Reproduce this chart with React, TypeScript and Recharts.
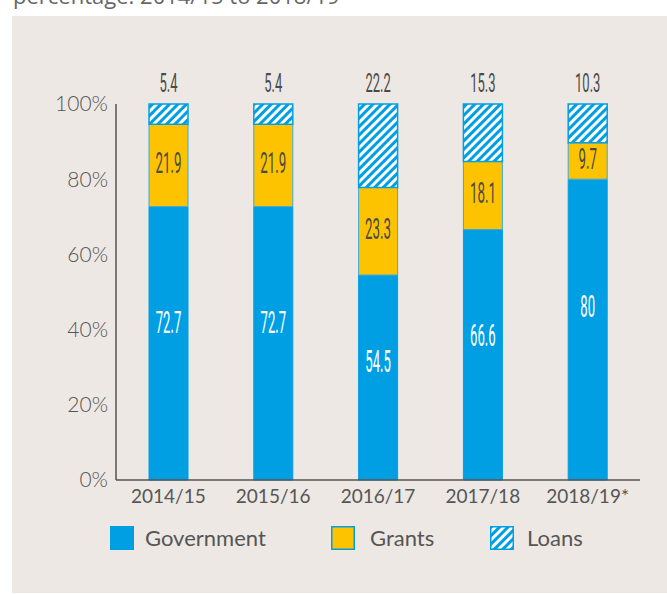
import React from 'react';
import { BarChart, Bar, XAxis, YAxis, LabelList } from 'recharts';

const years = ['2014/15', '2015/16', '2016/17', '2017/18', '2018/19*'];
const government = [72.7, 72.7, 54.5, 66.6, 80];
const grants = [21.9, 21.9, 23.3, 18.1, 9.7];
const loans = [5.4, 5.4, 22.2, 15.3, 10.3];
const yTicks = [0, 20, 40, 60, 80, 100];

const BLUE = '#009FE3';
const YELLOW = '#FDC300';
const BG = '#EDE8E4';
const TEXT = '#555555';

const data = years.map((year, i) => ({
  year,
  government: government[i],
  grants: grants[i],
  loans: loans[i],
}));

// narrow numbers, like the condensed face in the original
function numLabel(pos: 'gov' | 'grants' | 'top') {
  return (props: any) => {
    const { x, y, width, height, value } = props;
    const cx = Number(x) + Number(width) / 2;
    let cy = Number(y) + Number(height) / 2;
    let size = 29;
    let sx = 0.46;
    let fill = '#4a4a4a';
    if (pos === 'gov') {
      cy = Number(y) + Number(height) * 0.42;
      size = 32;
      sx = 0.41;
      fill = '#ffffff';
    } else if (pos === 'grants') {
      cy = cy - 2;
    } else {
      cy = Number(y) - 20;
      size = 25;
      sx = 0.52;
    }
    return (
      <text
        transform={`translate(${cx},${cy}) scale(${sx},1)`}
        x={0}
        y={0}
        textAnchor="middle"
        dominantBaseline="central"
        fontFamily="Roboto"
        fontWeight={400}
        fontSize={size}
        fill={fill}
      >
        {value}
      </text>
    );
  };
}

function Swatch({ kind }: { kind: 'gov' | 'grants' | 'loans' }) {
  return (
    <svg width={24} height={24} style={{ display: 'block' }}>
      <defs>
        <pattern id="lg-hatch" width={6} height={6} patternUnits="userSpaceOnUse" patternTransform="rotate(45)">
          <rect width={6} height={6} fill="#ffffff" />
          <rect width={3} height={6} fill={BLUE} />
        </pattern>
      </defs>
      <rect
        x={0.75}
        y={0.75}
        width={22.5}
        height={22.5}
        fill={kind === 'gov' ? BLUE : kind === 'grants' ? YELLOW : 'url(#lg-hatch)'}
        stroke={BLUE}
        strokeWidth={1.5}
      />
    </svg>
  );
}

export default function App() {
  const legendItems: { kind: 'gov' | 'grants' | 'loans'; label: string; left: number; textLeft: number }[] = [
    { kind: 'gov', label: 'Government', left: 110, textLeft: 145 },
    { kind: 'grants', label: 'Grants', left: 331, textLeft: 370 },
    { kind: 'loans', label: 'Loans', left: 490, textLeft: 527 },
  ];

  return (
    <div style={{ position: 'absolute', left: 0, top: 0, width: 667, height: 594, background: '#ffffff', overflow: 'hidden' }}>
      <div
        style={{
          position: 'absolute',
          left: 13,
          top: -16,
          fontFamily: 'Open Sans',
          fontSize: 22,
          lineHeight: '22px',
          color: '#666',
          whiteSpace: 'nowrap',
        }}
      >
        percentage: 2014/15 to 2018/19
      </div>
      <div style={{ position: 'absolute', left: 12, top: 16, right: 0, bottom: 1, background: BG }} />
      <div style={{ position: 'absolute', left: 0, top: 0 }}>
        <BarChart
          width={667}
          height={594}
          data={data}
          margin={{ top: 104, right: 27, left: 0, bottom: 0 }}
          barCategoryGap={0}
        >
          <defs>
            <pattern id="hatch" width={6} height={6} patternUnits="userSpaceOnUse" patternTransform="rotate(45)">
              <rect width={6} height={6} fill="#ffffff" />
              <rect width={3} height={6} fill={BLUE} />
            </pattern>
          </defs>
          <XAxis
            dataKey="year"
            height={114}
            tickLine={false}
            tickMargin={4}
            axisLine={{ stroke: TEXT, strokeWidth: 1.5 }}
            tick={{ fill: TEXT, fontSize: 19, fontFamily: 'Lato' }}
            interval={0}
          />
          <YAxis
            width={116}
            domain={[0, 100]}
            ticks={yTicks}
            tickFormatter={(v) => `${v}%`}
            tickLine={false}
            axisLine={{ stroke: TEXT, strokeWidth: 1.5 }}
            tick={{ fill: TEXT, fontSize: 21, fontFamily: 'Lato', fontWeight: 300 }}
          />
          <Bar dataKey="government" stackId="a" fill={BLUE} stroke={BLUE} strokeWidth={1} barSize={39} isAnimationActive={false}>
            <LabelList dataKey="government" content={numLabel('gov')} />
          </Bar>
          <Bar dataKey="grants" stackId="a" fill={YELLOW} stroke="#3aa9dc" strokeWidth={1} barSize={39} isAnimationActive={false}>
            <LabelList dataKey="grants" content={numLabel('grants')} />
          </Bar>
          <Bar dataKey="loans" stackId="a" fill="url(#hatch)" stroke={BLUE} strokeWidth={1.5} barSize={39} isAnimationActive={false}>
            <LabelList dataKey="loans" content={numLabel('top')} />
          </Bar>
        </BarChart>
      </div>
      {legendItems.map((it) => (
        <React.Fragment key={it.kind}>
          <div style={{ position: 'absolute', left: it.left, top: 526 }}>
            <Swatch kind={it.kind} />
          </div>
          <div
            style={{
              position: 'absolute',
              left: it.textLeft,
              top: 526,
              height: 24,
              lineHeight: '24px',
              fontFamily: 'Lato',
              fontSize: 22,
              color: TEXT,
            }}
          >
            {it.label}
          </div>
        </React.Fragment>
      ))}
    </div>
  );
}
